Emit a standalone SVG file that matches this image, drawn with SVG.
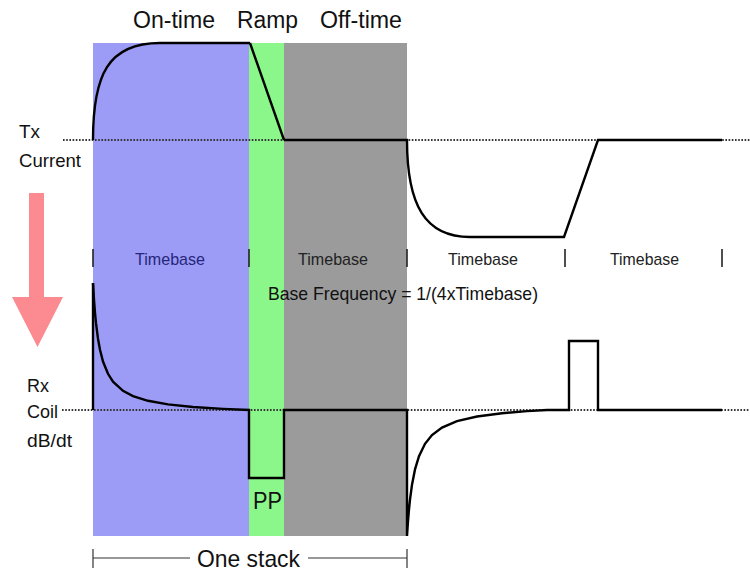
<svg xmlns="http://www.w3.org/2000/svg" width="750" height="574" viewBox="0 0 750 574">
<style>
text{font-family:"Liberation Sans",Arial,sans-serif;fill:#111}
.title{font-size:23px}
.lbl{font-size:19px}
.tb{font-size:17px;fill:#222}
.dot{fill:none;stroke:#333;stroke-width:1.8;stroke-dasharray:1.6 1.6}
.sig{fill:none;stroke:#000;stroke-width:2.4;stroke-linejoin:miter}
.tick{stroke:#222;stroke-width:1.6}
.brk{stroke:#333;stroke-width:1.2;fill:none}
</style>
<rect width="750" height="574" fill="#fff"/>
<g id="phases">
<rect id="on-time-band" x="93" y="43" width="156" height="493" fill="#9c9cf6"/>
<rect id="ramp-band" x="249" y="43" width="35" height="493" fill="#8bf78b"/>
<rect id="off-time-band" x="284" y="43" width="123" height="493" fill="#9b9b9b"/>
</g>
<g id="titles">
<text class="title" x="133" y="28" textLength="82" lengthAdjust="spacingAndGlyphs">On-time</text>
<text class="title" x="237" y="28" textLength="61" lengthAdjust="spacingAndGlyphs">Ramp</text>
<text class="title" x="320" y="28" textLength="82" lengthAdjust="spacingAndGlyphs">Off-time</text>
</g>
<g id="tx-label">
<text class="lbl" x="19" y="138" textLength="21" lengthAdjust="spacingAndGlyphs">Tx</text>
<text class="lbl" x="19" y="167" textLength="62" lengthAdjust="spacingAndGlyphs">Current</text>
</g>
<g id="rx-label">
<text class="lbl" x="27" y="392" textLength="22" lengthAdjust="spacingAndGlyphs">Rx</text>
<text class="lbl" x="27" y="418" textLength="31" lengthAdjust="spacingAndGlyphs">Coil</text>
<text class="lbl" x="27" y="447" textLength="45" lengthAdjust="spacingAndGlyphs">dB/dt</text>
</g>
<g id="arrow">
<polygon points="29,193 44,193 44,297 63,297 37.5,347 12,297 29,297" fill="#fb8a91"/>
</g>
<g id="baselines">
<line class="dot" x1="63" y1="140" x2="750" y2="140"/>
<line class="dot" x1="62" y1="410" x2="750" y2="410"/>
</g>
<g id="tx-signal">
<path class="sig" stroke="#12126c" d="M93,140 C93,75 108,43 160,43 L250,43"/>
<path class="sig" stroke="#0b420b" d="M250,43 L284,140"/>
<path class="sig" d="M284,140 L407,140 C407,205 425,237 470,237 L564,237 L598,140 L722,140"/>
</g>
<g id="rx-signal">
<path class="sig" d="M93,410 L93,283"/>
<path class="sig" d="M93,283 L94,299.8 L95,312.8 L96,323.2 L98,338.7 L100,349.8 L103,361.5 L108,373.8 L113,381.6 L123,390.8 L133,396.1 L148,400.8 L168,404.4 L193,407 L223,408.9 L249,410 L249,478 L284,478 L284,410 L407,410 L407,536 L408,521.2 L409,509.4 L410,499.7 L412,484.8 L415,469.4 L419,456.1 L425,443.8 L432,435.1 L442,427.6 L457,421.2 L477,416.5 L502,413.2 L527,411.1 L547,410 L569,410 L569,341 L598,341 L598,410 L722,410"/>
</g>
<g id="timebase-scale">
<line class="tick" x1="93" y1="249" x2="93" y2="267"/>
<line class="tick" x1="249" y1="249" x2="249" y2="267"/>
<line class="tick" x1="407" y1="249" x2="407" y2="267"/>
<line class="tick" x1="565" y1="249" x2="565" y2="267"/>
<line class="tick" x1="722" y1="249" x2="722" y2="267"/>
<text class="tb" x="135" y="265" textLength="70" lengthAdjust="spacingAndGlyphs" style="fill:#26267a">Timebase</text>
<text class="tb" x="298" y="265" textLength="70" lengthAdjust="spacingAndGlyphs">Timebase</text>
<text class="tb" x="448" y="265" textLength="70" lengthAdjust="spacingAndGlyphs">Timebase</text>
<text class="tb" x="610" y="265" textLength="69" lengthAdjust="spacingAndGlyphs">Timebase</text>
</g>
<g id="base-frequency">
<text x="268" y="300" style="font-size:19px" textLength="270" lengthAdjust="spacingAndGlyphs">Base Frequency = 1/(4xTimebase)</text>
</g>
<g id="pp-label">
<text x="253" y="509" style="font-size:23px" textLength="29" lengthAdjust="spacingAndGlyphs">PP</text>
</g>
<g id="one-stack">
<line class="brk" x1="93" y1="558" x2="190" y2="558"/>
<line class="brk" x1="308" y1="558" x2="407" y2="558"/>
<line class="brk" x1="93" y1="549" x2="93" y2="568"/>
<line class="brk" x1="407" y1="549" x2="407" y2="568"/>
<text x="197" y="567" style="font-size:24px" textLength="103" lengthAdjust="spacingAndGlyphs">One stack</text>
</g>
</svg>
